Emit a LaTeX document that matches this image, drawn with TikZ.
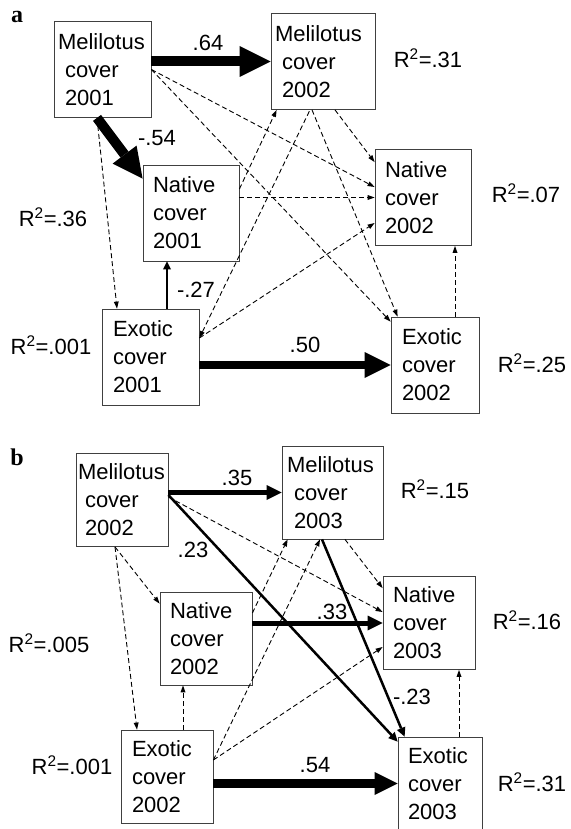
\documentclass[tikz,border=0pt]{standalone}
\usepackage{fontspec}
\setmainfont{Liberation Sans}
\newfontfamily\panelfont{Liberation Serif}
\usetikzlibrary{arrows.meta}

\tikzset{
	var/.style={draw=black!75, line width=0.8pt, inner sep=0pt, minimum height=96pt, align=left},
	weak/.style={line width=0.9pt, dash pattern=on 5pt off 3pt, -{Triangle[length=7pt, width=5pt, line width=0pt]}},
	strong/.style 2 args={line width=#1, -{Triangle[length=#2, width=#2, line width=0pt]}},
	panel/.style={font=\panelfont\bfseries\fontsize{24}{24}\selectfont}
}

\begin{document}
\begin{tikzpicture}[x=1pt, y=-1pt, font=\fontsize{22}{28}\selectfont]
	\useasboundingbox (0,0) rectangle (570,829);

	% a: 2001 -> 2002
	\node[panel] (pa) at (17,17) {a};
	\node[var, minimum width=97pt, text width=89pt] (m1) at (102.5,69.5) {Melilotus\\\hspace{7pt}cover\\\hspace{7pt}2001};
	\node[var, minimum width=104pt, text width=96pt] (m2) at (323,61.5) {Melilotus\\\hspace{7pt}cover\\\hspace{7pt}2002};
	\node[var, minimum width=96pt, text width=76pt] (n1) at (191,213) {Native\\cover\\2001};
	\node[var, minimum width=96pt, text width=76pt] (n2) at (423,197.5) {Native\\cover\\2002};
	\node[var, minimum width=97pt, text width=75pt] (e1) at (150.5,357) {Exotic\\cover\\2001};
	\node[var, minimum width=88pt, text width=66pt] (e2) at (435,365) {Exotic\\cover\\2002};

	\node (rm2) at (428,58) {R\textsuperscript{2}=.31};
	\node (rn1) at (53,217) {R\textsuperscript{2}=.36};
	\node (rn2) at (526,193) {R\textsuperscript{2}=.07};
	\node (re1) at (51,345) {R\textsuperscript{2}=.001};
	\node (re2) at (532,363) {R\textsuperscript{2}=.25};

	\draw[weak] ([xshift=-5.5pt]m1.south) -- ([xshift=-33.5pt]e1.north);
	\draw[weak] (m1.east) -- ([yshift=10.5pt]n2.west);
	\draw[weak] (m1.east) -- ([yshift=-5pt]e2.north west);
	\draw[weak] ([yshift=24pt]n1.east) -- ([xshift=6pt]m2.south west);
	\draw[weak] (n1.east |- n2.west) -- (n2.west);
	\draw[weak, {Triangle[length=7pt, width=5pt, line width=0pt]}-] ([yshift=19pt]e1.east) -- ([xshift=-13pt]m2.south);
	\draw[weak] ([yshift=19pt]e1.east) -- ([yshift=-25.5pt]n2.west);
	\draw[weak] ([xshift=12pt]m2.south) -- ([yshift=-13pt]n2.north west);
	\draw[weak] ([xshift=-11pt]m2.south) -- ([xshift=7pt]e2.north west);
	\draw[weak] ([xshift=20pt]e2.north) -- ([xshift=20pt]e2.north |- n2.south);

	\draw[strong={10pt}{31pt}] (m1.east |- m2.west) -- (m2.west) node (w1) at (208,43) {.64};
	\draw[strong={10pt}{30pt}] ([xshift=-5.5pt]m1.south) -- ([yshift=-14pt]n1.north west) node (w2) at (157,138) {-.54};
	\draw[strong={2.5pt}{8pt}] ([xshift=16.5pt]e1.north) -- ([xshift=16.5pt]e1.north |- n1.south) node (w3) at (196,290) {-.27};
	\draw[strong={8.5pt}{26pt}] (e1.east |- e2.west) -- (e2.west) node (w4) at (305,345) {.50};

	% b: 2002 -> 2003
	\node[panel] (pb) at (17,457) {b};
	\node[var, minimum width=92pt, minimum height=93pt, text width=88pt] (mb2) at (122,500) {Melilotus\\\hspace{7pt}cover\\\hspace{7pt}2002};
	\node[var, minimum width=101pt, minimum height=93pt, text width=91pt] (mb3) at (332.5,492.5) {Melilotus\\\hspace{7pt}cover\\\hspace{7pt}2003};
	\node[var, minimum width=92pt, minimum height=93pt, text width=72pt] (nb2) at (206,638.5) {Native\\cover\\2002};
	\node[var, minimum width=92pt, minimum height=93pt, text width=72pt] (nb3) at (429,623) {Native\\cover\\2003};
	\node[var, minimum width=92pt, minimum height=93pt, text width=70pt] (eb2) at (167,776.5) {Exotic\\cover\\2002};
	\node[var, minimum width=84pt, minimum height=93pt, text width=64pt] (eb3) at (440,783.5) {Exotic\\cover\\2003};

	\node (rmb3) at (435,489) {R\textsuperscript{2}=.15};
	\node (rnb2) at (49,643) {R\textsuperscript{2}=.005};
	\node (rnb3) at (527,620) {R\textsuperscript{2}=.16};
	\node (reb2) at (72,765) {R\textsuperscript{2}=.001};
	\node (reb3) at (532,782) {R\textsuperscript{2}=.31};

	\draw[weak] ([yshift=3pt]mb2.east) -- ([yshift=11pt]nb3.west);
	\draw[weak] ([xshift=-7pt]mb2.south) -- ([yshift=-12pt]nb2.north west);
	\draw[weak] ([xshift=-7pt]mb2.south) -- ([xshift=-30pt]eb2.north);
	\draw[weak] ([xshift=12.5pt]mb3.south) -- ([yshift=-12pt]nb3.north west);
	\draw[weak] ([yshift=25.5pt]nb2.east) -- ([xshift=6pt]mb3.south west);
	\draw[weak] ([yshift=16.5pt]eb2.east) -- ([xshift=-12.5pt]mb3.south);
	\draw[weak] ([yshift=16.5pt]eb2.east) -- ([yshift=-24pt]nb3.west);
	\draw[weak] ([xshift=16pt]eb2.north) -- ([xshift=16pt]eb2.north |- nb2.south);
	\draw[weak] ([xshift=19pt]eb3.north) -- ([xshift=19pt]eb3.north |- nb3.south);

	\draw[strong={5pt}{15pt}] (mb2.east |- mb3.west) -- (mb3.west) node (v1) at (237,478) {.35};
	\draw[strong={2.5pt}{9pt}] ([yshift=5pt]mb2.east) -- ([yshift=-5pt]eb3.north west) node (v2) at (193,550) {.23};
	\draw[strong={2.5pt}{9pt}] ([xshift=-10.5pt]mb3.south) -- ([xshift=7pt]eb3.north west) node (v3) at (412,697) {-.23};
	\draw[strong={5pt}{15pt}] (nb2.east |- nb3.west) -- (nb3.west) node (v4) at (332,612) {.33};
	\draw[strong={8.5pt}{23pt}] (eb2.east |- eb3.west) -- (eb3.west) node (v5) at (315,765) {.54};
\end{tikzpicture}
\end{document}
